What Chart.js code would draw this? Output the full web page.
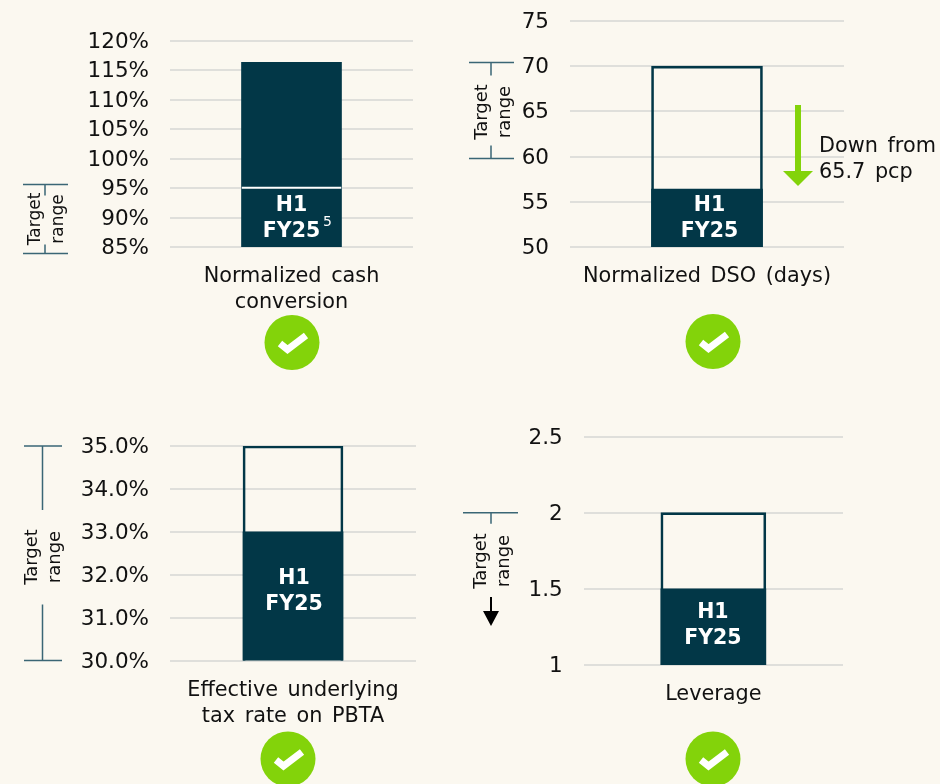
<!DOCTYPE html>
<html>
<head>
<meta charset="utf-8">
<script src="https://cdn.jsdelivr.net/npm/chart.js@4"></script>
<style>
    html, body { margin: 0; padding: 0; background: #fbf8f0; }
    body { width: 940px; height: 784px; position: relative; overflow: hidden; }
    canvas { position: absolute; }
</style>
</head>
<body>
<canvas id="cashChart" width="440" height="392" style="left:0;top:0"></canvas>
<canvas id="dsoChart" width="500" height="412" style="left:440px;top:-20px"></canvas>
<canvas id="taxChart" width="440" height="392" style="left:0;top:392px"></canvas>
<canvas id="leverageChart" width="500" height="392" style="left:440px;top:392px"></canvas>
<script>
/* global Chart */
const cashLabels = [["Normalized cash", "conversion"]];
const cashTicks = ["85%", "90%", "95%", "100%", "105%", "110%", "115%", "120%"];
const cashActual = [116.3];
const cashTarget = [95.2];
const cashBracket = [83.9, 95.6];

const dsoLabels = ["Normalized DSO (days)"];
const dsoTicks = ["50", "55", "60", "65", "70", "75"];
const dsoActual = [56.4];
const dsoTarget = [70];
const dsoBracket = [59.8, 70.4];

const taxLabels = [["Effective underlying", "tax rate on PBTA"]];
const taxTicks = ["30.0%", "31.0%", "32.0%", "33.0%", "34.0%", "35.0%"];
const taxActual = [33];
const taxTarget = [35];
const taxBracket = [30, 35];

const leverageLabels = ["Leverage"];
const leverageTicks = ["1", "1.5", "2", "2.5"];
const leverageActual = [1.5];
const leverageTarget = [2];
const leverageBracket = [1, 2];

const DARK = "#023747";
const LINE = "#3a6675";
const GREEN = "#83d30a";
const GRID = "#dfdfdb";
const INK = "#111111";
const FONT = "'DejaVu Sans'";

function drawArrow(ctx, x, y0, y1, shaft, headW, headH, color) {
    ctx.fillStyle = color;
    ctx.fillRect(x - shaft / 2, y0, shaft, y1 - y0);
    ctx.beginPath();
    ctx.moveTo(x - headW / 2, y1);
    ctx.lineTo(x + headW / 2, y1);
    ctx.lineTo(x, y1 + headH);
    ctx.closePath();
    ctx.fill();
}

function drawCheck(ctx, x, y) {
    ctx.fillStyle = GREEN;
    ctx.beginPath();
    ctx.arc(x, y, 27.5, 0, Math.PI * 2);
    ctx.fill();
    ctx.strokeStyle = "#ffffff";
    ctx.lineWidth = 7;
    ctx.lineCap = "butt";
    ctx.lineJoin = "miter";
    ctx.beginPath();
    ctx.moveTo(x - 12, y + 1);
    ctx.lineTo(x - 4.5, y + 7);
    ctx.lineTo(x + 14, y - 7);
    ctx.stroke();
}

function makePanel(id, cfg) {
    const el = document.getElementById(id);
    const offX = el.offsetLeft, offY = el.offsetTop;

    const extras = {
        id: "extras",
        beforeDraw(chart) {
            chart.ctx.wordSpacing = "3px";
        },
        afterDraw(chart) {
            const ctx = chart.ctx;
            const y = chart.scales.y;
            const bar = chart.getDatasetMeta(0).data[0];
            ctx.save();
            ctx.translate(-offX, -offY);

            // label inside the bar
            const labelY = y.getPixelForValue(cfg.labelAt) + offY + 1.5;
            const labelX = bar.x + offX + cfg.labelShift;
            ctx.fillStyle = "#ffffff";
            ctx.font = `bold 20.5px ${FONT}`;
            ctx.textAlign = "center";
            ctx.textBaseline = "middle";
            ctx.fillText("H1", labelX, labelY - 13);
            ctx.fillText("FY25", labelX, labelY + 13);
            if (cfg.footnote) {
                ctx.font = `14px ${FONT}`;
                ctx.fillText(cfg.footnote, labelX + 36, labelY + 3);
            }

            // target range bracket
            const topY = y.getPixelForValue(cfg.bracket[1]) + offY;
            const botY = y.getPixelForValue(cfg.bracket[0]) + offY;
            const b = cfg.bracketX;
            ctx.strokeStyle = LINE;
            ctx.lineWidth = 1.5;
            ctx.beginPath();
            ctx.moveTo(b[0], topY);
            ctx.lineTo(b[2], topY);
            ctx.moveTo(b[1], topY);
            ctx.lineTo(b[1], topY + cfg.stubs[0]);
            if (cfg.stubs[1]) {
                ctx.moveTo(b[0], botY);
                ctx.lineTo(b[2], botY);
                ctx.moveTo(b[1], botY);
                ctx.lineTo(b[1], botY - cfg.stubs[1]);
            }
            ctx.stroke();

            // rotated target range caption
            ctx.fillStyle = INK;
            ctx.font = `${cfg.captionSize}px ${FONT}`;
            [["Target", cfg.caption[0]], ["range", cfg.caption[1]]].forEach(([t, cx]) => {
                ctx.save();
                ctx.translate(cx, cfg.caption[2]);
                ctx.rotate(-Math.PI / 2);
                ctx.fillText(t, 0, 0);
                ctx.restore();
            });

            if (cfg.extra) cfg.extra(ctx);
            drawCheck(ctx, cfg.check[0], cfg.check[1]);
            ctx.restore();
        }
    };

    return new Chart(el, {
        type: "bar",
        data: {
            labels: cfg.labels,
            datasets: [
                {
                    label: "Target",
                    data: cfg.target,
                    grouped: false,
                    order: 1,
                    backgroundColor: "rgba(0,0,0,0)",
                    borderColor: cfg.targetColor,
                    borderWidth: cfg.targetBorder,
                    borderSkipped: false,
                    barThickness: cfg.barWidth
                },
                {
                    label: "H1 FY25",
                    data: cfg.actual,
                    grouped: false,
                    order: 2,
                    backgroundColor: DARK,
                    borderWidth: 0,
                    barThickness: cfg.barWidth
                }
            ]
        },
        options: {
            responsive: false,
            animation: false,
            layout: { padding: { left: 0, right: cfg.pad[1], top: cfg.pad[0], bottom: 0 } },
            plugins: { legend: { display: false }, tooltip: { enabled: false } },
            scales: {
                x: {
                    grid: { display: false, drawTicks: false },
                    border: { display: false },
                    afterFit: s => { s.height = cfg.xHeight; },
                    ticks: {
                        padding: 17,
                        maxRotation: 0,
                        color: INK,
                        font: { family: FONT, size: 20.8, lineHeight: 1.25 }
                    }
                },
                y: {
                    min: cfg.min,
                    max: cfg.max,
                    grid: { color: GRID, lineWidth: 2, drawTicks: false },
                    border: { display: false },
                    afterFit: s => { s.width = cfg.yWidth; },
                    ticks: {
                        stepSize: cfg.step,
                        padding: 21,
                        labelOffset: 1.5,
                        color: INK,
                        font: { family: FONT, size: 21.5 },
                        callback: (v, i) => cfg.ticks[i]
                    }
                }
            }
        },
        plugins: [extras]
    });
}

makePanel("cashChart", {
    labels: cashLabels, ticks: cashTicks, actual: cashActual, target: cashTarget,
    min: 85, max: 120, step: 5, barWidth: 100,
    pad: [40.5, 27], yWidth: 170, xHeight: 145,
    targetColor: "#ffffff", targetBorder: { top: 1.5, left: 0, right: 0, bottom: 0 },
    labelAt: 90, labelShift: 0, footnote: "5",
    bracket: cashBracket, bracketX: [23, 45, 68], stubs: [11, 9],
    caption: [36, 59, 219], captionSize: 17, check: [292, 342.5]
});

makePanel("dsoChart", {
    labels: dsoLabels, ticks: dsoTicks, actual: dsoActual, target: dsoTarget,
    min: 50, max: 75, step: 5, barWidth: 111,
    pad: [41, 96], yWidth: 130, xHeight: 145,
    targetColor: DARK, targetBorder: 2,
    labelAt: 53.25, labelShift: 2.5,
    bracket: dsoBracket, bracketX: [469, 491, 514], stubs: [13, 13],
    caption: [482, 505, 112], captionSize: 18, check: [713, 341.5],
    extra(ctx) {
        drawArrow(ctx, 798, 105, 171, 6, 30, 15, GREEN);
        ctx.fillStyle = INK;
        ctx.font = `20.8px ${FONT}`;
        ctx.textAlign = "left";
        ctx.fillText("Down from", 819, 147);
        ctx.fillText("65.7 pcp", 819, 173);
    }
});

makePanel("taxChart", {
    labels: taxLabels, ticks: taxTicks, actual: taxActual, target: taxTarget,
    min: 30, max: 35, step: 1, barWidth: 100,
    pad: [54, 24], yWidth: 170, xHeight: 123.5,
    targetColor: DARK, targetBorder: 2,
    labelAt: 31.65, labelShift: 1,
    bracket: taxBracket, bracketX: [24, 42.5, 62], stubs: [64, 56],
    caption: [32, 55, 557], captionSize: 18, check: [288, 759]
});

makePanel("leverageChart", {
    labels: leverageLabels, ticks: leverageTicks, actual: leverageActual, target: leverageTarget,
    min: 1, max: 2.5, step: 0.5, barWidth: 105,
    pad: [44.5, 97], yWidth: 143.7, xHeight: 119,
    targetColor: DARK, targetBorder: 2,
    labelAt: 1.27, labelShift: -0.5,
    bracket: leverageBracket, bracketX: [463, 491, 518], stubs: [11, 0],
    caption: [481, 504, 561], captionSize: 18, check: [713, 759],
    extra(ctx) {
        drawArrow(ctx, 491, 597, 611, 2, 16, 15, "#000000");
    }
});
</script>
</body>
</html>
